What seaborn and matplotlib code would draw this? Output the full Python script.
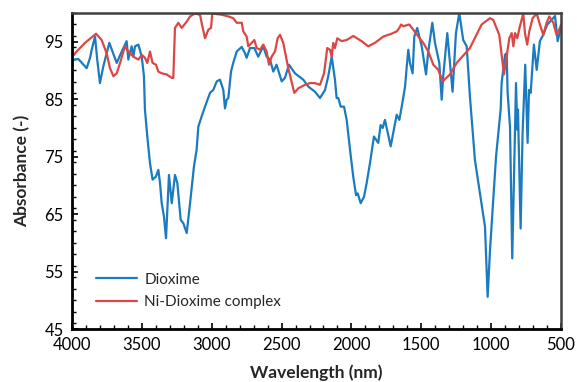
import matplotlib
matplotlib.use("Agg")
import matplotlib.pyplot as plt
import seaborn as sns
import pandas as pd
from matplotlib.ticker import MultipleLocator

dioxime_wl = [4000, 3979, 3955, 3895, 3871, 3860, 3835, 3820, 3800, 3776, 3733, 3680, 3644, 3609,
              3597, 3573, 3561, 3549, 3525, 3501, 3485, 3478, 3461, 3442, 3423, 3400, 3382, 3370,
              3358, 3342, 3327, 3318, 3306, 3286, 3263, 3246, 3222, 3203, 3179, 3155, 3127, 3108,
              3096, 3072, 3048, 3012, 2989, 2964, 2941, 2917, 2905, 2893, 2881, 2862, 2846, 2821,
              2785, 2762, 2750, 2726, 2695, 2667, 2631, 2607, 2583, 2559, 2536, 2499, 2476, 2447,
              2404, 2345, 2309, 2261, 2225, 2189, 2166, 2141, 2118, 2106, 2094, 2077, 2053, 2034,
              2010, 1987, 1967, 1955, 1934, 1910, 1891, 1867, 1839, 1808, 1791, 1776, 1760, 1719,
              1676, 1657, 1640, 1616, 1604, 1593, 1581, 1562, 1550, 1529, 1497, 1466, 1450, 1421,
              1402, 1371, 1354, 1343, 1314, 1276, 1252, 1228, 1200, 1175, 1152, 1116, 1080, 1044,
              1025, 1008, 965, 932, 925, 901, 889, 882, 865, 849, 822, 813, 808, 789, 775, 756,
              739, 729, 717, 694, 674, 651, 627, 598, 567, 543, 524, 502]
dioxime_abs = [91.8, 91.9, 92.0, 90.4, 92.2, 93.5, 95.9, 92.0, 87.8, 90.7, 94.8, 91.3, 93.3, 95.1,
               91.9, 94.2, 92.4, 94.2, 94.5, 92.4, 89.0, 83.2, 78.5, 73.9, 71.0, 71.5, 72.7, 70.4,
               66.9, 64.6, 60.8, 65.7, 71.8, 66.9, 71.8, 70.4, 64.0, 63.4, 61.7, 66.9, 73.3, 76.2,
               80.2, 82.0, 83.7, 86.1, 86.6, 88.1, 88.4, 86.6, 83.4, 84.9, 85.2, 89.8, 91.3, 93.3,
               94.1, 93.0, 92.2, 93.9, 93.9, 92.4, 94.2, 92.4, 91.9, 89.8, 91.0, 88.1, 88.7, 91.0,
               89.5, 88.4, 87.2, 86.3, 85.2, 86.6, 89.0, 92.4, 88.4, 85.2, 85.2, 83.7, 83.7, 81.4,
               76.2, 71.5, 68.3, 68.6, 66.9, 68.0, 70.4, 73.9, 78.5, 77.4, 80.5, 80.0, 81.4, 76.8,
               82.3, 81.4, 83.7, 87.2, 90.7, 93.6, 91.3, 89.5, 95.9, 97.4, 94.2, 89.3, 93.3, 98.3,
               94.8, 91.3, 84.9, 89.0, 96.5, 86.3, 96.5, 100.0, 95.3, 94.2, 85.5, 74.4, 68.6, 62.8,
               50.6, 58.8, 75.0, 83.2, 87.8, 92.7, 93.0, 86.1, 80.2, 57.3, 87.8, 79.7, 83.2, 62.5, 79.1, 91.0,
               77.4, 86.6, 86.1, 94.5, 90.1, 95.1, 96.2, 98.0, 98.8, 99.5, 95.1, 97.4]

complex_wl = [4000, 3986, 3967, 3907, 3828, 3788, 3752, 3728, 3704, 3680, 3656, 3621, 3597, 3561,
              3525, 3501, 3478, 3461, 3442, 3423, 3399, 3382, 3358, 3322, 3286, 3275, 3263, 3239,
              3215, 3179, 3155, 3120, 3084, 3067, 3048, 3024, 3005, 2996, 2929, 2881, 2846, 2821,
              2785, 2774, 2750, 2738, 2714, 2695, 2678, 2654, 2631, 2607, 2590, 2571, 2547, 2528,
              2511, 2488, 2452, 2409, 2380, 2332, 2297, 2261, 2225, 2196, 2173, 2153, 2141, 2130,
              2118, 2101, 2070, 2034, 1987, 1927, 1880, 1832, 1772, 1712, 1676, 1657, 1645, 1629,
              1586, 1557, 1521, 1486, 1450, 1414, 1378, 1347, 1295, 1247, 1152, 1068, 1008, 985,
              942, 908, 889, 870, 853, 841, 829, 813, 794, 770, 758, 742, 727, 703, 674, 651, 627,
              603, 584, 555, 532, 508, 500]
complex_abs = [93.6, 92.7, 93.3, 94.8, 96.4, 95.3, 93.0, 90.4, 89.0, 89.5, 91.3, 94.2, 93.3, 92.4,
               91.9, 92.7, 92.2, 91.3, 93.3, 91.3, 91.0, 89.8, 89.5, 89.3, 88.7, 88.7, 97.4, 98.3,
               97.4, 98.5, 99.4, 99.9, 99.7, 97.7, 95.6, 97.1, 97.4, 99.9, 99.7, 99.4, 99.1, 98.3,
               98.3, 96.8, 95.9, 94.2, 94.8, 95.3, 93.9, 93.6, 94.5, 93.3, 91.0, 92.4, 93.3, 95.6,
               96.2, 94.8, 90.4, 86.1, 86.9, 87.5, 87.8, 87.8, 87.5, 89.5, 93.9, 93.6, 92.4, 94.8,
               93.9, 95.6, 95.1, 95.3, 96.0, 95.1, 94.2, 94.8, 95.9, 96.4, 96.8, 97.4, 98.0, 97.7,
               98.0, 97.1, 95.9, 94.8, 93.3, 91.0, 90.1, 88.1, 89.3, 91.3, 93.9, 98.0, 99.1, 98.8,
               96.2, 89.3, 92.4, 95.6, 96.5, 94.2, 96.5, 95.6, 97.7, 99.9, 96.5, 94.5, 96.8, 99.1, 99.9, 98.0, 96.2,
               98.3, 99.4, 98.3, 96.2, 97.4, 98.0]

series_names = ["Dioxime", "Ni-Dioxime complex"]
series_colors = ["#1b7bbf", "#dc4745"]

df = pd.concat([
    pd.DataFrame({"wl": dioxime_wl, "abs": dioxime_abs, "series": series_names[0]}),
    pd.DataFrame({"wl": complex_wl, "abs": complex_abs, "series": series_names[1]}),
], ignore_index=True)

sns.set_style("ticks")
plt.rcParams["font.family"] = ["Lato", "DejaVu Sans"]

fig = plt.figure(figsize=(5.77, 3.82), dpi=100)
ax = fig.add_axes([72/577, 53/382, 489/577, 316/382])

sns.lineplot(data=df, x="wl", y="abs", hue="series", palette=series_colors,
             estimator=None, sort=False, linewidth=1.6, ax=ax)

ax.set_xlim(4000, 500)
ax.set_ylim(45, 100)
ax.xaxis.set_major_locator(MultipleLocator(500))
ax.xaxis.set_minor_locator(MultipleLocator(100))
ax.set_yticks([45, 55, 65, 75, 85, 95])
ax.yaxis.set_minor_locator(MultipleLocator(2))
ax.tick_params(axis="both", which="both", direction="in", labelsize=12, colors="black")
ax.tick_params(which="major", length=4, width=1.2)
ax.tick_params(which="minor", length=3, width=1.0)
ax.tick_params(axis="x", which="major", pad=6)
ax.tick_params(axis="y", which="major", pad=6)

for side in ["left", "bottom"]:
    ax.spines[side].set_linewidth(2)
    ax.spines[side].set_color("black")
for side in ["top", "right"]:
    ax.spines[side].set_visible(True)
    ax.spines[side].set_linewidth(1.8)
    ax.spines[side].set_color("#404040")

ax.set_xlabel("Wavelength (nm)", fontsize=12.5, fontweight="bold", labelpad=8)
ax.set_ylabel("Absorbance (-)", fontsize=12.5, fontweight="bold", labelpad=10)

leg = ax.legend(loc="lower left", bbox_to_anchor=(0.02, 0.02), frameon=False,
                fontsize=11, handlelength=2.7, labelspacing=0.55, handletextpad=0.5)

fig.savefig("out.png", dpi=100)
